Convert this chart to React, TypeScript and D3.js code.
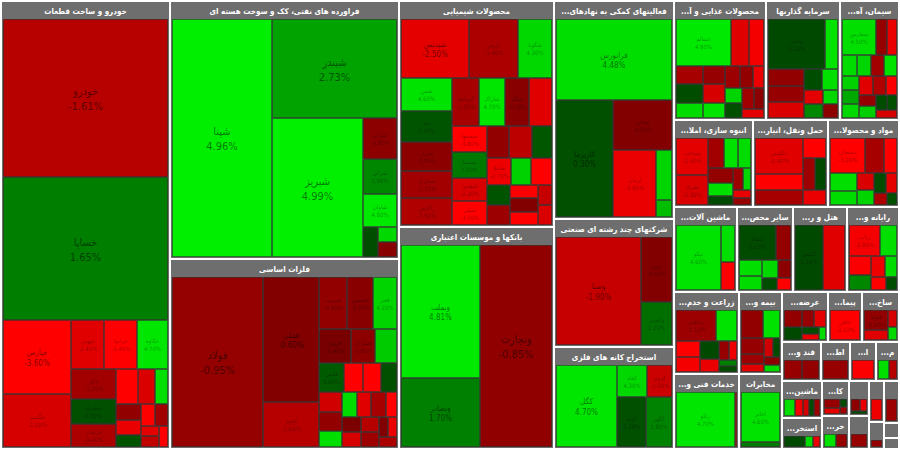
import React from 'react';
import * as d3 from 'd3';

// [symbol, size, % change]
type Stock = [string, number, number];
type Spec = (string | number | Spec)[];

const autoStocks: Stock[] = [
  ['خودرو', 272, -1.61], ['خساپا', 246, 1.65], ['خپارس', 52, -3.6], ['خگستر', 37, -2.2],
  ['خبهمن', 17, -2.4], ['خزامیا', 17, -3.4], ['خکاوه', 16, 4.7], ['خاور', 14, -1.2],
  ['خمحرکه', 12, 0.3], ['خریخت', 11, -1.4], ['خکمک', 8, -3.3], ['خفنر', 6, -2.3],
  ['خرینگ', 5, 4.5], ['خشرق', 4, -0.9], ['خمهر', 4, -2.6], ['خچرخش', 3, 0.4],
  ['ختوقا', 3, -3.2], ['خنصیر', 3, -1.2], ['خزر', 2, -2.5], ['خلنت', 2, -1.8], ['خاذین', 2, -3.5],
];
const refineryStocks: Stock[] = [
  ['شپنا', 253, 4.96], ['شبندر', 132, 2.73], ['شبریز', 135, 4.99], ['شتران', 15, -0.8],
  ['شرانل', 13, 1.9], ['شاوان', 12, 4.8], ['شنفت', 5, 0.2], ['شسپا', 3, 4.3], ['شپاس', 3, -0.7],
];
const metalStocks: Stock[] = [
  ['فولاد', 171, -0.95], ['فملی', 77, -0.6], ['فخوز', 28, -1.6],
  ['فسرب', 16, -0.9], ['فاسمین', 15, -0.7], ['فجر', 14, 4.2], ['فروی', 12, -0.4],
  ['فسازان', 9, -0.8], ['فنورد', 8, 3.9], ['فلامی', 8, 0.6], ['فروس', 6, -4.1],
  ['فگستر', 6, -3.6], ['فجام', 5, 0.3], ['فالوم', 5, -2.1], ['فاذر', 5, -0.9],
  ['فباهنر', 4, 4.5], ['فرآور', 4, 4.4], ['فافزا', 4, -2.4], ['فخاس', 4, -1.3],
  ['فنوال', 3, -3.4], ['هرمز', 3, -0.5], ['فکاوه', 3, -2.2], ['فزر', 3, -1.6],
  ['فتوسا', 3, -1.1], ['فپنتا', 2, -0.6], ['فولای', 2, -2.6], ['فسپا', 2, -1.4],
];
const chemStocks: Stock[] = [
  ['شپدیس', 44, -2.5], ['پارس', 32, -1.4], ['شگویا', 22, 4.3], ['شفن', 18, 4.6],
  ['جم', 17, 0.4], ['شیراز', 16, -0.8], ['شخارک', 15, -1.2], ['زاگرس', 15, -1.5],
  ['کرماشا', 14, -1.3], ['شاراک', 14, 4.7], ['شکلر', 12, -0.7], ['شفارس', 12, -2.4],
  ['شصفها', 10, -3.8], ['شسینا', 10, 1.5], ['شغدیر', 9, -2.2], ['شپلی', 9, -3.5],
  ['شبصیر', 8, -0.9], ['شدوص', 8, -1.7], ['شفارا', 7, 0.5], ['شاملا', 7, -2.7],
  ['شکربن', 6, 4.1], ['شلعاب', 6, -3.2], ['شسم', 5, 0.4], ['شنیر', 5, -1.1],
  ['شپترو', 4, -2.9], ['شستا', 4, -0.6], ['شرنگی', 4, -3.9], ['شبهرن', 3, -1.9], ['شتوکا', 3, -2.3],
];
const bankStocks: Stock[] = [['وبملت', 116, 4.81], ['وتجارت', 158, -0.85], ['وبصادر', 60, 1.7]];
const finStocks: Stock[] = [
  ['فرابورس', 104, 4.48], ['کاریزما', 74, 0.3], ['مفاخر', 33, -0.6], ['آرمان', 32, -2.6],
  ['ثروت', 9, 4.2], ['تمدن', 3, 3.5],
];
const holdingStocks: Stock[] = [['وصنا', 110, -1.9], ['وپویا', 24, -0.6], ['وکغدیر', 16, 1.2]];
const mineStocks: Stock[] = [['کگل', 63, 4.7], ['کچاد', 12, 4.3], ['کروی', 10, -2.0], ['کدما', 18, 0.3], ['کگهر', 16, 1.8]];
const foodStocks: Stock[] = [
  ['غسالم', 31.5, 4.8], ['غبشهر', 10, -2.4], ['غمارگ', 8.5, -2.8], ['غکورش', 6, -1.3],
  ['غشهد', 6, 0.2], ['غگل', 5, 4.4], ['بهپاک', 5, -1.0], ['غپاک', 5, -2.2], ['غدیس', 4, 4.6],
  ['غمینو', 4, -1.1], ['غنوش', 3.5, -0.9], ['غگرجی', 3, -2.6], ['غچین', 3, 4.2],
  ['غشاذر', 3, 0.3], ['غبهنوش', 3, -1.2], ['غاذر', 2.5, -0.8], ['غپینو', 2.5, -2.5],
];
const investStocks: Stock[] = [
  ['وغدیر', 35.7, 0.1], ['وبهمن', 8, 4.6], ['وصندوق', 7.5, -0.9], ['ونیکی', 7, -1.0],
  ['وتوکا', 7, -2.3], ['وساپا', 4.5, 0.2], ['وبوعلی', 4, 4.5], ['وسپه', 3.5, -2.5],
  ['ومعادن', 3.3, 1.9], ['وسینا', 2.7, 4.3], ['واتی', 2.5, -0.8],
];
const cementStocks: Stock[] = [
  ['سفارس', 15, 4.5], ['ساروم', 5, -1.0], ['سشمال', 4.5, -2.6], ['سفار', 4, 4.4],
  ['سدور', 4, 4.2], ['سخزر', 3.5, -1.2], ['سصوفی', 3.5, 4.6], ['سکرد', 3, 4.1],
  ['سبهان', 3, 2.9], ['سهگمت', 3, 4.3], ['ساربیل', 3, -2.4], ['سغرب', 3, -1.5],
  ['سخاش', 2.5, -2.9], ['سیلام', 2.5, -1.0], ['سقاین', 2.5, 4.0], ['سمازن', 2, 0.2],
  ['سنیر', 2, 0.3], ['سباقر', 2, -2.2],
];
const buildStocks: Stock[] = [
  ['وساخت', 15.9, -2.5], ['ثشرق', 12.5, -2.3], ['ثاخت', 6, -1.2], ['ثنوسا', 5.7, 4.6],
  ['ثامان', 5.2, 4.4], ['وآذر', 5, -0.9], ['ثباغ', 4.2, 4.5], ['ثفارس', 3, 0.1],
  ['ثعمرا', 3, -1.1], ['ثالوند', 2.4, 4.3], ['ثمسکن', 2.1, -2.6], ['ثتران', 1.7, -1.0],
];
const transStocks: Stock[] = [
  ['حکشتی', 22.7, -2.4], ['حپترو', 10, -3.4], ['حتوکا', 9.7, -1.3], ['حفارس', 6.2, -3.1],
  ['حسینا', 5.2, -1.1], ['حآسا', 5, 0.1], ['حریل', 4.7, -2.6],
];
const pharmaStocks: Stock[] = [
  ['دسبحان', 16.6, -3.0], ['دجابر', 9, -1.3], ['دفارا', 6, -3.3], ['دکیمی', 6, 4.5],
  ['داوه', 5, 4.4], ['دلر', 4, -2.3], ['دسینا', 3.5, 4.2], ['دعبید', 3, 0.2],
  ['دتماد', 3, -2.5], ['دکوثر', 2, -1.4], ['دشیمی', 1.5, 0.3],
];
const machineStocks: Stock[] = [['تپکو', 39.8, 4.6], ['فجوش', 7, 4.5], ['کاما', 5.5, -3.1]];
const mineralStocks: Stock[] = [
  ['کساپا', 17.5, 0.15], ['کفرا', 7, -0.9], ['کسرام', 4.8, 4.5], ['کلوند', 4.5, 4.4],
  ['کرازی', 4.2, 4.3], ['کچینی', 3.3, -0.8], ['کاذر', 2.5, 0.2], ['کگاز', 2.4, -3.2],
];
const hotelStocks: Stock[] = [['گکیش', 25, 0.1], ['گشان', 19.5, -2.4]];
const computerStocks: Stock[] = [
  ['رتاپ', 13.5, -2.8], ['سپ', 7.3, 4.5], ['رانفور', 5.6, -2.9], ['سیستم', 4.7, 1.9],
  ['مداران', 4, -2.7], ['رافزا', 3.3, 4.4], ['فناوا', 2.9, -3.0], ['افق', 2, 0.2],
];
const farmStocks: Stock[] = [
  ['زماهان', 16.8, -1.1], ['زکوثر', 8.5, 4.6], ['زشگزا', 5, -3.0], ['زفکا', 4.9, -2.8],
  ['زبینا', 4.8, 0.1], ['زقیام', 3.5, -2.6], ['زملارد', 2.4, -1.0], ['زگلدشت', 2.1, -2.7],
  ['زشریف', 1.6, 1.7], ['زدشت', 1.3, 0.2],
];
const engStocks: Stock[] = [['رتکو', 45.5, 4.7], ['تکنو', 1.5, -3.2]];
const insureStocks: Stock[] = [
  ['آسیا', 8.8, -0.9], ['دانا', 6.6, 4.6], ['البرز', 5.1, -1.0], ['پارسیان', 3.2, -1.1],
  ['ما', 2.7, -2.4], ['ملت', 2.3, -2.1], ['کوثر', 1.8, 0.2], ['سرمد', 1.8, -0.8], ['وحافظ', 1.6, 4.3],
];
const telecomStocks: Stock[] = [['اخابر', 28.6, 4.6], ['همراه', 2.7, 1.6]];
const powerStocks: Stock[] = [
  ['بمپنا', 5.3, -0.9], ['بفجر', 4.1, 0.1], ['بکهنوج', 3.7, -1.0], ['بزاگرس', 3.4, -2.5],
  ['بجهرم', 2, 0.2], ['بپیوند', 2, -2.6], ['بنیرو', 1.7, 4.4],
];
const contractStocks: Stock[] = [['خاهن', 16.7, -3.1]];
const metalProdStocks: Stock[] = [['فلوله', 8.4, -0.9], ['فوکا', 4.3, -2.4], ['فمراد', 2.8, -2.2], ['فگرما', 2.1, 4.3]];
const sugarStocks: Stock[] = [['قثابت', 7.7, -1.0], ['قشکر', 7, -0.9]];
const itStocks: Stock[] = [['اپرداز', 11.1, -1.0]];
const oilStocks: Stock[] = [['حفاری', 9.5, -2.9]];
const woodStocks: Stock[] = [['چکاپا', 5, 4.5], ['چکارن', 3.8, -1.6]];
const electricStocks: Stock[] = [['بالبر', 4.4, 4.5], ['بترانس', 3.2, -2.8], ['بموتو', 2.6, -2.2], ['بشهاب', 2.2, 0.2], ['بایکا', 2.2, -1.1]];
const coalStocks: Stock[] = [['کطبس', 7, 0.1], ['کبافق', 2.6, 4.4], ['کپرور', 2.3, -2.7]];
const tileStocks: Stock[] = [['کسعدی', 4, -1.0], ['کپارس', 2.6, -2.5], ['کسرا', 1.6, 0.2], ['کحافظ', 1.3, -1.2]];
const retailStocks: Stock[] = [['رفاه', 4.6, 4.6], ['افرا', 4.1, -1.0]];
const rubberStocks: Stock[] = [['پکرمان', 3, -0.8], ['پاسا', 2, -2.6], ['پلاسک', 1.6, 0.2]];
const textileStocks: Stock[] = [['نبروج', 6.1, -1.0]];
const leatherStocks: Stock[] = [['برک', 6.3, -2.7]];
const printStocks: Stock[] = [['چافست', 4.2, -1.0]];
const brokerStocks: Stock[] = [['ولصنم', 5.9, -1.1]];
const otherMineStocks: Stock[] = [['کترام', 2.2, -0.5]];
const paperStocks: Stock[] = [['چکاوه', 1.5, -0.5]];

const W = 900;
const H = 450;
const FONT = '"DejaVu Sans Condensed", "DejaVu Sans", Tahoma, sans-serif';

interface TNode { kind: string; dir?: string; name?: string; value?: number; pct?: number; children?: TNode[] }

const leaf = (s: Stock): TNode => ({ kind: 'stock', name: s[0], value: s[1], pct: s[2] });

function sector(name: string, stocks: Stock[], spec?: Spec): TNode {
  if (!spec) return { kind: 'sector', dir: 'sq', name, children: stocks.map(leaf) };
  const walk = (sp: Spec): TNode => ({
    kind: 'sub',
    dir: sp[0] as string,
    children: sp.slice(1).map(k => (typeof k === 'number' ? leaf(stocks[k]) : walk(k as Spec))),
  });
  const top = walk(spec);
  return { kind: 'sector', dir: top.dir, name, children: top.children };
}

const group = (dir: string, ...children: TNode[]): TNode => ({ kind: 'group', dir, children });

const tree: TNode = {
  kind: 'root',
  dir: 'h',
  children: [
    sector('خودرو و ساخت قطعات', autoStocks),
    group('v',
      sector('فراورده های نفتی، کک و سوخت هسته ای', refineryStocks,
        ['h', 0, ['v', 1, ['h', 2, ['v', 3, 4, 5, ['h', 6, ['v', 7, 8]]]]]]),
      sector('فلزات اساسی', metalStocks, ['h', 0, ['v', 1, 2], ['sq', ...d3.range(3, metalStocks.length)]]),
    ),
    group('v',
      sector('محصولات شیمیایی', chemStocks),
      sector('بانکها و موسسات اعتباری', bankStocks, ['h', ['v', 0, 2], 1]),
    ),
    group('v',
      sector('فعالیتهای کمکی به نهادهای مالی واسط', finStocks, ['v', 0, ['h', 1, ['v', 2, ['h', 3, ['v', 4, 5]]]]]),
      sector('شرکتهای چند رشته ای صنعتی', holdingStocks, ['h', 0, ['v', 1, 2]]),
      sector('استخراج کانه های فلزی', mineStocks, ['h', 0, ['v', ['h', 1, 2], ['h', 3, 4]]]),
    ),
    group('v',
      group('h',
        sector('محصولات غذایی و آشامیدنی به جز قند و شکر', foodStocks),
        sector('سرمایه گذاریها', investStocks),
        sector('سیمان، آهک و گچ', cementStocks),
      ),
      group('h',
        sector('انبوه سازی، املاک و مستغلات', buildStocks),
        sector('حمل ونقل، انبارداری و ارتباطات', transStocks),
        sector('مواد و محصولات دارویی', pharmaStocks),
      ),
      group('h',
        sector('ماشین آلات و تجهیزات', machineStocks, ['h', 0, ['v', 1, 2]]),
        sector('سایر محصولات کانی غیرفلزی', mineralStocks),
        sector('هتل و رستوران', hotelStocks, ['h', 0, 1]),
        sector('رایانه و فعالیتهای وابسته به آن', computerStocks),
      ),
      group('h',
        group('v',
          sector('زراعت و خدمات وابسته', farmStocks),
          sector('خدمات فنی و مهندسی', engStocks, ['h', 0, 1]),
        ),
        group('v',
          sector('بیمه وصندوق بازنشستگی به جزتامین اجتماعی', insureStocks),
          sector('مخابرات', telecomStocks, ['v', 0, 1]),
        ),
        group('v',
          group('h',
            sector('عرضه برق، گاز، بخاروآب گرم', powerStocks),
            sector('پیمانکاری صنعتی', contractStocks),
            sector('ساخت محصولات فلزی', metalProdStocks),
          ),
          group('h',
            sector('قند و شکر', sugarStocks, ['h', 0, 1]),
            sector('اطلاعات و ارتباطات', itStocks),
            sector('استخراج نفت گاز و خدمات جنبی جز اکتشاف', oilStocks),
            sector('محصولات چوبی', woodStocks, ['h', 0, 1]),
          ),
          group('h',
            group('v',
              sector('ماشین آلات و دستگاههای برقی', electricStocks, ['h', 0, 1, 2, 3, 4]),
              sector('استخراج ذغال سنگ', coalStocks, ['h', 0, 1, 2]),
            ),
            group('v',
              sector('کاشی و سرامیک', tileStocks),
              sector('خرده فروشی،باستثنای وسایل نقلیه موتوری', retailStocks, ['h', 0, 1]),
            ),
            group('v',
              sector('لاستیک و پلاستیک', rubberStocks),
              sector('منسوجات', textileStocks),
            ),
            group('v',
              sector('دباغی، پرداخت چرم و ساخت انواع پاپوش', leatherStocks),
              sector('چاپ و انتشار و تکثیر', printStocks),
            ),
            group('v',
              sector('سایر واسطه گریهای مالی', brokerStocks),
              sector('استخراج سایر معادن', otherMineStocks),
              sector('محصولات کاغذی', paperStocks),
            ),
          ),
        ),
      ),
    ),
  ],
};

const tile = (node: any, x0: number, y0: number, x1: number, y1: number) => {
  const dir = node.data.dir;
  if (dir === 'h') d3.treemapDice(node, x0, y0, x1, y1);
  else if (dir === 'v') d3.treemapSlice(node, x0, y0, x1, y1);
  else d3.treemapSquarify(node, x0, y0, x1, y1);
};

const color = d3.scaleLinear<string>()
  .domain([-3, -0.01, 0, 5])
  .range(['#ff0000', '#640000', '#004600', '#00f000'])
  .clamp(true);

const ctx = document.createElement('canvas').getContext('2d')!;
function fit(text: string, font: string, maxW: number) {
  ctx.font = font;
  if (ctx.measureText(text).width <= maxW) return text;
  for (let n = text.length - 1; n > 0; n--) {
    const t = text.slice(0, n).trimEnd() + '...';
    if (ctx.measureText(t).width <= maxW) return t;
  }
  return '';
}

const kindOf = (n: any) => n.data.kind;

export default function App() {
  const root = d3.hierarchy<TNode>(tree).sum(d => (d.kind === 'stock' ? d.value! : 0));
  d3.treemap<TNode>()
    .size([W, H])
    .tile(tile)
    .round(true)
    .paddingInner(n => (kindOf(n) === 'root' || kindOf(n) === 'group' ? 2 : 0))
    .paddingTop(n => (kindOf(n) === 'root' ? 2 : kindOf(n) === 'sector' ? 17 : 0))
    .paddingRight(n => (kindOf(n) === 'root' ? 2 : kindOf(n) === 'sector' ? 1 : 0))
    .paddingBottom(n => (kindOf(n) === 'root' ? 2 : kindOf(n) === 'sector' ? 1 : 0))
    .paddingLeft(n => (kindOf(n) === 'root' ? 2 : kindOf(n) === 'sector' ? 1 : 0))(root);

  const nodes = root.descendants() as d3.HierarchyRectangularNode<TNode>[];
  const sectors = nodes.filter(n => n.data.kind === 'sector');
  const stocks = nodes.filter(n => n.data.kind === 'stock');
  const headSize = 8;
  const headFont = `bold ${headSize}px ${FONT}`;

  return (
    <div style={{ position: 'absolute', left: 0, top: 0 }}>
      <svg width={W} height={H} style={{ display: 'block', background: '#fff' }}>
        {sectors.map((s, i) => (
          <rect key={'s' + i} x={s.x0} y={s.y0} width={s.x1 - s.x0} height={s.y1 - s.y0} fill="#6e6e6e" />
        ))}
        {stocks.map((d, i) => {
          const w = d.x1 - d.x0;
          const h = d.y1 - d.y0;
          if (w <= 0 || h <= 0) return null;
          const cx = (d.x0 + d.x1) / 2;
          const cy = (d.y0 + d.y1) / 2;
          const area = w * h;
          const size = area >= 12000 ? 11 : area >= 4000 ? 8 : w >= 24 && h >= 20 ? 6 : 0;
          const pct = `${d.data.pct!.toFixed(2)}%`;
          return (
            <g key={'c' + i}>
              <rect
                x={d.x0 + 0.5} y={d.y0 + 0.5} width={Math.max(0, w - 1)} height={Math.max(0, h - 1)}
                fill={color(d.data.pct!)} stroke="rgba(0,0,0,0.35)" strokeWidth={1}
              />
              {size > 0 && (
                <g
                  fill={size > 6 ? 'rgba(0,0,0,0.5)' : 'rgba(0,0,0,0.35)'}
                  fontFamily={FONT} fontSize={size} textAnchor="middle"
                >
                  <text x={cx} y={cy - size * 0.25} direction="rtl">{d.data.name}</text>
                  <text x={cx} y={cy + size * 1.1}>{pct}</text>
                </g>
              )}
            </g>
          );
        })}
        {sectors.map((s, i) => {
          const w = s.x1 - s.x0;
          const h = s.y1 - s.y0;
          const label = h >= 12 ? fit(s.data.name!, headFont, w - 6) : '';
          return label ? (
            <text
              key={'t' + i} x={(s.x0 + s.x1) / 2} y={s.y0 + 11.5} textAnchor="middle" direction="rtl"
              fill="#fff" fontFamily={FONT} fontWeight="bold" fontSize={headSize}
            >
              {label}
            </text>
          ) : null;
        })}
      </svg>
    </div>
  );
}
